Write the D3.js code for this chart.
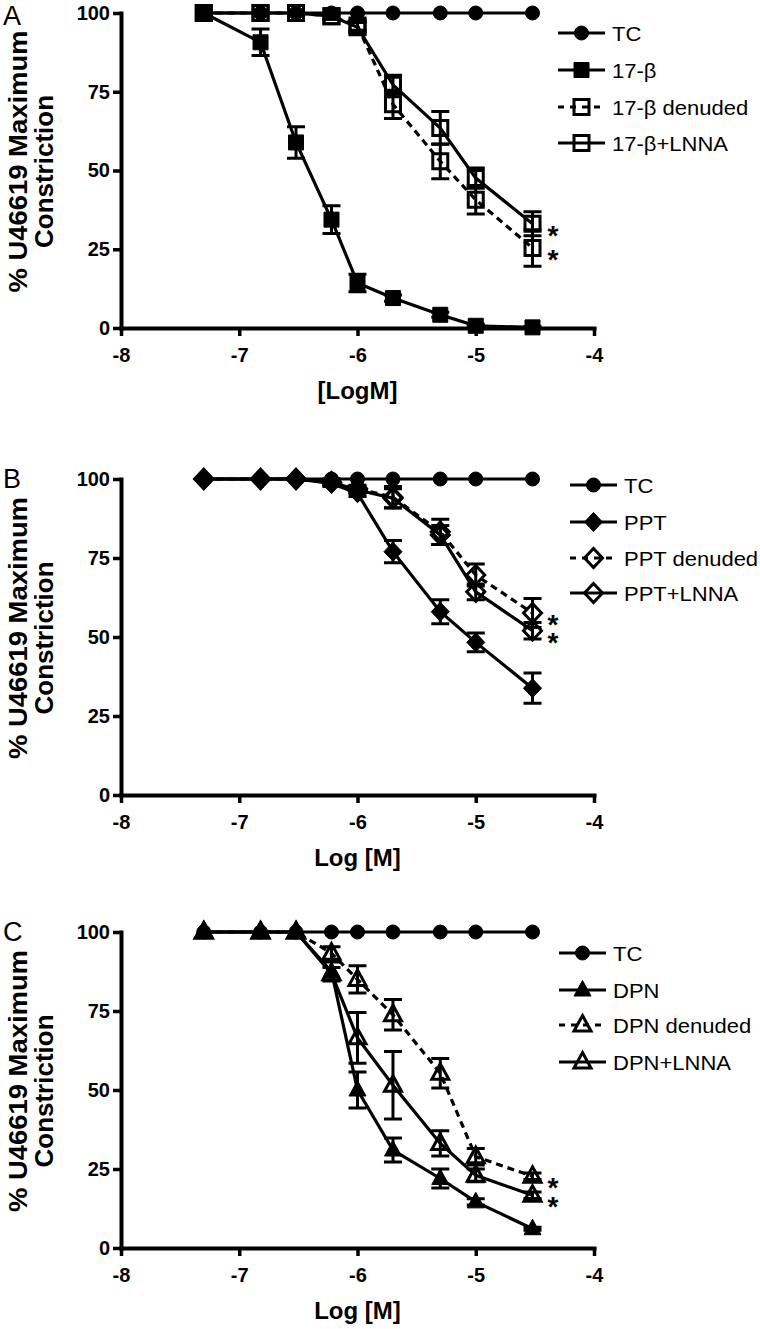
<!DOCTYPE html>
<html><head><meta charset="utf-8">
<script src="https://cdn.jsdelivr.net/npm/d3@7"></script>
<style>body{margin:0;background:#fff}svg{display:block}</style>
</head><body>
<script>
// ---------- data ----------
const logM = [-7.3, -6.82, -6.52, -6.22, -6, -5.7, -5.3, -5, -4.52];
const xTicks = [-8, -7, -6, -5, -4];
const yTicks = [0, 25, 50, 75, 100];

// Panel A
const tcA      = [100, 100, 100, 100, 100, 100, 100, 100, 100];
const e17      = [100, 90.7, 58.9, 34.4, 14.3, 9.5, 4.2, 0.7, 0.2];
const e17Err   = [0, 4.2, 5, 4.4, 2.8, 1, 0.8, 0.5, 0.3];
const e17Den   = [100, 100, 100, 99, 96, 71, 52.9, 40.7, 25.4];
const e17DenErr= [0, 0, 0, 1, 1.5, 4.5, 5.5, 4.5, 5.8];
const e17Lnna  = [100, 100, 100, 99, 95.5, 77.2, 63.5, 47.6, 33.1];
const e17LnnaErr=[0, 0, 0, 1, 1.5, 3, 5.2, 3.2, 3.8];

// Panel B
const tcB      = [100, 100, 100, 100, 100, 100, 100, 100, 100];
const ppt      = [100, 100, 100, 98.6, 95.5, 77, 58, 48.3, 33.8];
const pptErr   = [0, 0, 0, 1, 1, 3.5, 3.8, 3, 4.8];
const pptDen   = [100, 100, 100, 99, 97, 94.2, 83.3, 69.6, 57.6];
const pptDenErr= [0, 0, 0, 1, 1, 3.4, 4, 3.5, 4.6];
const pptLnna  = [100, 100, 100, 99, 96.5, 93.9, 82.3, 64.3, 52];
const pptLnnaErr=[0, 0, 0, 1, 1, 3, 3, 2.5, 2.6];

// Panel C
const tcC      = [100, 100, 100, 100, 100, 100, 100, 100, 100];
const dpn      = [100, 100, 100, 87.5, 50, 31, 22, 14.6, 6.1];
const dpnErr   = [0, 0, 0, 3, 5.7, 3.8, 3, 1, 0.5];
const dpnDen   = [100, 100, 100, 93.3, 85, 73.8, 55.3, 28.9, 22.7];
const dpnDenErr= [0, 0, 0, 2, 4.3, 4.8, 4.7, 2.6, 1];
const dpnLnna  = [100, 100, 100, 86.8, 66.5, 51.5, 33.1, 23, 16.7];
const dpnLnnaErr=[0, 0, 0, 2, 8, 10.7, 4, 2, 1];

const namesA = ["TC", "17-\u03b2", "17-\u03b2 denuded", "17-\u03b2+LNNA"];
const namesB = ["TC", "PPT", "PPT denuded", "PPT+LNNA"];
const namesC = ["TC", "DPN", "DPN denuded", "DPN+LNNA"];

const yTitle1 = "% U46619 Maximum";
const yTitle2 = "Constriction";

// ---------- drawing ----------
const FONT = "'Liberation Sans', Arial, Helvetica, sans-serif";
const svg = d3.select("body").append("svg").attr("width", 760).attr("height", 1329)
  .style("font-family", FONT);

const x = d3.scaleLinear().domain([-8, -4]).range([121, 594]);

function markerPath(shape) {
  if (shape === "circle") return d3.symbol(d3.symbolCircle, Math.PI * 7 * 7)();
  if (shape === "square") return "M-7.5,-7.5H7.5V7.5H-7.5Z";
  if (shape === "diamond") return "M0,-9.5L9,0L0,9.5L-9,0Z";
  if (shape === "triangle") return "M0,-9.5L8.5,6L-8.5,6Z";
}

function drawMarker(g, shape, filled, cx, cy) {
  g.append("path").attr("d", markerPath(shape))
    .attr("transform", `translate(${cx},${cy})`)
    .attr("fill", filled ? "#000" : "none")
    .attr("stroke", "#000")
    .attr("stroke-width", filled ? 1 : 3);
}

function panel(p) {
  const g = svg.append("g");
  const y = d3.scaleLinear().domain([0, 100]).range([p.y0, p.y100]);

  // axes
  const ax = g.append("g").attr("transform", `translate(0,${p.y0})`)
    .call(d3.axisBottom(x).tickValues(xTicks).tickFormat(d => String(d))
      .tickSize(8).tickSizeOuter(0).tickPadding(12));
  const ay = g.append("g").attr("transform", `translate(${x(-8)},0)`)
    .call(d3.axisLeft(y).tickValues(yTicks).tickFormat(d => String(d))
      .tickSize(8).tickSizeOuter(0).tickPadding(3));
  [ax, ay].forEach(a => {
    a.select(".domain").attr("stroke-width", 4).attr("stroke-linecap", "square");
    a.selectAll(".tick line").attr("stroke-width", 3.5);
    a.selectAll("text").attr("font-size", 20).attr("font-weight", "bold")
      .attr("fill", "#000").attr("font-family", FONT);
  });

  // axis titles
  g.append("text").attr("x", (x(-8) + x(-4)) / 2).attr("y", p.y0 + 71)
    .attr("text-anchor", "middle").attr("font-size", 24).attr("font-weight", "bold")
    .text(p.xTitle);
  const yc = (p.y0 + p.y100) / 2;
  g.append("text").attr("transform", `translate(27,${yc - 9}) rotate(-90)`)
    .attr("text-anchor", "middle").attr("font-size", 25).attr("font-weight", "bold")
    .attr("textLength", 262).attr("lengthAdjust", "spacingAndGlyphs").text(yTitle1);
  g.append("text").attr("transform", `translate(53,${yc + 1}) rotate(-90)`)
    .attr("text-anchor", "middle").attr("font-size", 25).attr("font-weight", "bold")
    .attr("textLength", 153).attr("lengthAdjust", "spacingAndGlyphs").text(yTitle2);

  // panel letter
  g.append("text").attr("x", 3).attr("y", p.letterY).attr("font-size", 27)
    .text(p.letter);

  const line = d3.line().x((d, i) => x(logM[i])).y(d => y(d));

  // series order for drawing: TC, open series, filled series
  const order = [0, 2, 3, 1];
  order.forEach(si => {
    const s = p.series[si];
    const sg = g.append("g");
    if (s.err) {
      s.values.forEach((v, i) => {
        const e = s.err[i];
        if (!e) return;
        const cx = x(logM[i]);
        sg.append("path")
          .attr("d", `M${cx},${y(v + e)}V${y(v - e)}M${cx - 9},${y(v + e)}H${cx + 9}M${cx - 9},${y(v - e)}H${cx + 9}`)
          .attr("stroke", "#000").attr("stroke-width", 3).attr("fill", "none");
      });
    }
    sg.append("path").attr("d", line(s.values)).attr("fill", "none")
      .attr("stroke", "#000").attr("stroke-width", 3.2)
      .attr("stroke-dasharray", s.dashed ? "7,5" : null);
    s.values.forEach((v, i) => drawMarker(sg, s.shape, s.filled, x(logM[i]), y(v)));
  });

  // asterisks (one text element per panel, one tspan per marked series)
  const st = g.append("text").attr("text-anchor", "middle")
    .attr("font-size", 28).attr("font-weight", "bold");
  p.stars.forEach(si => {
    const v = p.series[si].values[8];
    st.append("tspan").attr("x", 553).attr("y", y(v) + 21).text("*");
  });

  // legend
  const lg = g.append("g");
  p.series.forEach((s, i) => {
    const ly = p.legY[i];
    lg.append("line").attr("x1", p.legX0).attr("x2", p.legX0 + 47)
      .attr("y1", ly).attr("y2", ly).attr("stroke", "#000").attr("stroke-width", 3.2)
      .attr("stroke-dasharray", s.dashed ? "6,6" : null);
    drawMarker(lg, s.shape, s.filled, p.legX0 + 23.5, ly);
    lg.append("text").attr("transform", `translate(${p.legX0 + 54},${ly + 7.5}) scale(1.1,1)`)
      .attr("font-size", 20).text(p.names[i]);
  });
}

panel({
  letter: "A", letterY: 25, y0: 328, y100: 13, xTitle: "[LogM]",
  names: namesA, legX0: 558, legY: [33, 70, 107, 143], stars: [3, 2],
  series: [
    { values: tcA, shape: "circle", filled: true },
    { values: e17, err: e17Err, shape: "square", filled: true },
    { values: e17Den, err: e17DenErr, shape: "square", filled: false, dashed: true },
    { values: e17Lnna, err: e17LnnaErr, shape: "square", filled: false }
  ]
});
panel({
  letter: "B", letterY: 488, y0: 795, y100: 479, xTitle: "Log [M]",
  names: namesB, legX0: 570, legY: [485, 522, 558, 593], stars: [2, 3],
  series: [
    { values: tcB, shape: "circle", filled: true },
    { values: ppt, err: pptErr, shape: "diamond", filled: true },
    { values: pptDen, err: pptDenErr, shape: "diamond", filled: false, dashed: true },
    { values: pptLnna, err: pptLnnaErr, shape: "diamond", filled: false }
  ]
});
panel({
  letter: "C", letterY: 941, y0: 1248, y100: 932, xTitle: "Log [M]",
  names: namesC, legX0: 559, legY: [953, 990, 1025, 1062], stars: [2, 3],
  series: [
    { values: tcC, shape: "circle", filled: true },
    { values: dpn, err: dpnErr, shape: "triangle", filled: true },
    { values: dpnDen, err: dpnDenErr, shape: "triangle", filled: false, dashed: true },
    { values: dpnLnna, err: dpnLnnaErr, shape: "triangle", filled: false }
  ]
});
</script>
</body></html>
